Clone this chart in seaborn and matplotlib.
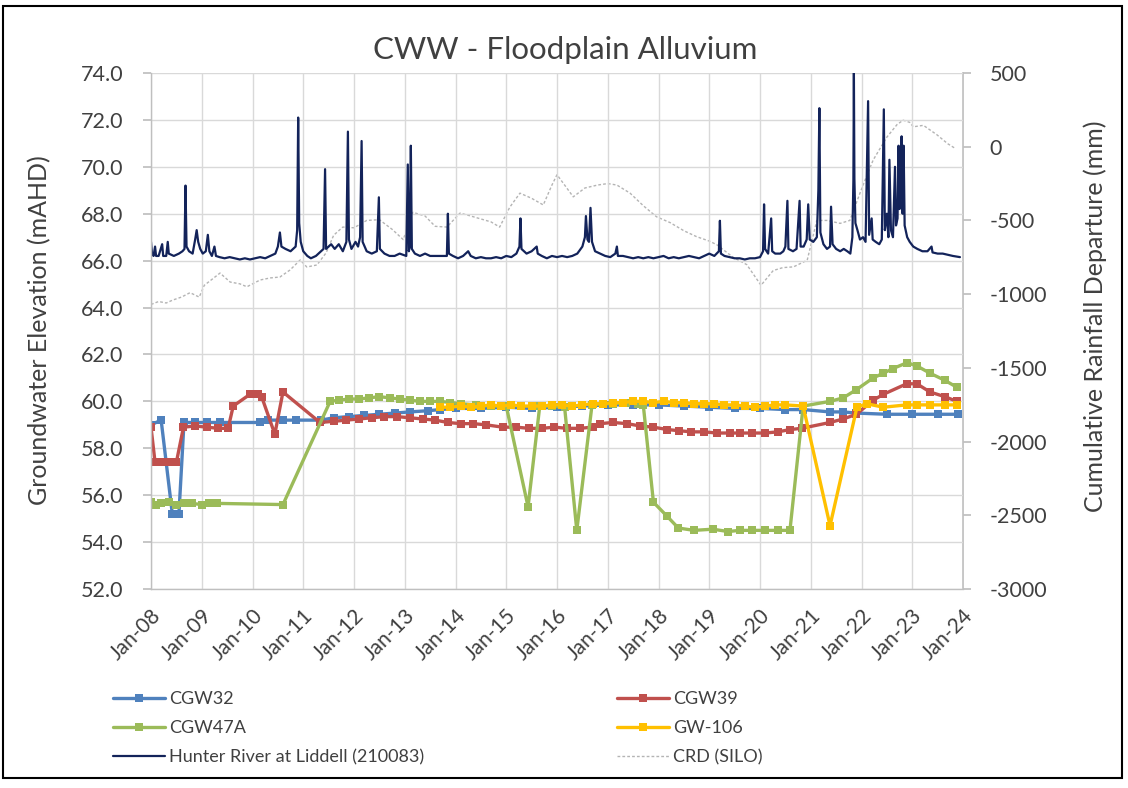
import matplotlib
matplotlib.use("Agg")
import matplotlib.pyplot as plt
import seaborn as sns
import pandas as pd
from matplotlib.patches import Rectangle

# ---------------- data ----------------
cgw32_t = [2008.0, 2008.2, 2008.42, 2008.55, 2008.65, 2008.87, 2009.1, 2009.35, 2010.15, 2010.3, 2010.6,
           2010.85, 2011.35, 2011.6, 2011.9, 2012.2, 2012.5, 2012.8, 2013.1, 2013.45, 2013.7, 2014.0,
           2014.5, 2015.0, 2015.5, 2016.0, 2016.5, 2017.0, 2017.5, 2018.0, 2018.5, 2019.0, 2019.5,
           2020.0, 2020.5, 2020.85, 2021.38, 2021.64, 2021.9, 2022.5, 2023.0, 2023.5, 2023.9]
cgw32_v = [59.0, 59.2, 55.2, 55.2, 59.1, 59.1, 59.1, 59.1, 59.1, 59.2, 59.2,
           59.2, 59.2, 59.3, 59.35, 59.4, 59.45, 59.5, 59.55, 59.6, 59.65, 59.7,
           59.7, 59.75, 59.7, 59.75, 59.8, 59.85, 59.85, 59.85, 59.8, 59.75, 59.7,
           59.7, 59.65, 59.65, 59.55, 59.55, 59.5, 59.45, 59.45, 59.45, 59.45]

cgw39_t = [2008.0, 2008.08, 2008.2, 2008.35, 2008.5, 2008.64, 2008.87, 2009.1, 2009.33, 2009.52, 2009.62,
           2009.95, 2010.1, 2010.18, 2010.44, 2010.6, 2011.33, 2011.6, 2011.85, 2012.1, 2012.35, 2012.6,
           2012.85, 2013.1, 2013.35, 2013.6, 2013.85, 2014.1, 2014.35, 2014.6, 2014.93, 2015.2, 2015.45,
           2015.7, 2015.95, 2016.2, 2016.45, 2016.7, 2016.85, 2017.1, 2017.38, 2017.64, 2017.9, 2018.17,
           2018.4, 2018.65, 2018.9, 2019.15, 2019.4, 2019.6, 2019.85, 2020.1, 2020.35, 2020.6, 2020.82,
           2021.38, 2021.64, 2021.9, 2022.23, 2022.43, 2022.89, 2023.09, 2023.35, 2023.64, 2023.88]
cgw39_v = [58.9, 57.4, 57.4, 57.4, 57.4, 58.9, 58.95, 58.9, 58.85, 58.85, 59.8,
           60.3, 60.3, 60.2, 58.6, 60.4, 59.1, 59.15, 59.2, 59.25, 59.3, 59.35,
           59.35, 59.3, 59.25, 59.2, 59.1, 59.05, 59.05, 59.0, 58.9, 58.9, 58.85,
           58.85, 58.9, 58.85, 58.85, 58.9, 59.05, 59.1, 59.05, 58.95, 58.9, 58.8,
           58.75, 58.7, 58.7, 58.65, 58.65, 58.65, 58.65, 58.65, 58.7, 58.8, 58.85,
           59.1, 59.25, 59.45, 60.05, 60.3, 60.75, 60.75, 60.4, 60.2, 60.0]

cgw47a_t = [2008.0, 2008.1, 2008.2, 2008.35, 2008.5, 2008.65, 2008.8, 2009.0, 2009.15, 2009.3, 2010.6,
            2011.53, 2011.7, 2011.9, 2012.1, 2012.3, 2012.5, 2012.7, 2012.9, 2013.1, 2013.3, 2013.5,
            2013.7, 2013.9, 2014.1, 2014.4, 2014.7, 2015.0, 2015.43, 2015.66, 2015.9, 2016.15, 2016.39,
            2016.69, 2016.9, 2017.1, 2017.35, 2017.6, 2017.7, 2017.9, 2018.17, 2018.39, 2018.7, 2019.07,
            2019.37, 2019.6, 2019.84, 2020.1, 2020.35, 2020.59, 2020.85, 2021.38, 2021.64, 2021.9, 2022.23,
            2022.43, 2022.62, 2022.9, 2023.1, 2023.35, 2023.64, 2023.88]
cgw47a_v = [55.7, 55.6, 55.65, 55.7, 55.6, 55.65, 55.65, 55.6, 55.65, 55.65, 55.6,
            60.0, 60.05, 60.1, 60.1, 60.15, 60.2, 60.15, 60.1, 60.05, 60.0, 60.0,
            60.0, 59.95, 59.9, 59.85, 59.8, 59.8, 55.5, 59.8, 59.8, 59.75, 54.5,
            59.85, 59.9, 59.9, 59.95, 59.9, 59.85, 55.7, 55.1, 54.6, 54.5, 54.55,
            54.45, 54.5, 54.5, 54.5, 54.5, 54.5, 59.8, 60.0, 60.15, 60.5, 61.0,
            61.2, 61.4, 61.65, 61.5, 61.2, 60.9, 60.6]

gw106_t = [2013.7, 2013.9, 2014.1, 2014.3, 2014.5, 2014.7, 2014.9, 2015.1, 2015.3, 2015.5, 2015.7,
           2015.9, 2016.1, 2016.3, 2016.5, 2016.7, 2016.9, 2017.1, 2017.3, 2017.5, 2017.7, 2017.9,
           2018.1, 2018.3, 2018.5, 2018.7, 2018.9, 2019.1, 2019.3, 2019.5, 2019.7, 2019.9, 2020.1,
           2020.3, 2020.5, 2020.85, 2021.38, 2021.91, 2022.1, 2022.43, 2022.89, 2023.1, 2023.35,
           2023.64, 2023.88]
gw106_v = [59.75, 59.75, 59.8, 59.75, 59.8, 59.85, 59.8, 59.85, 59.8, 59.8, 59.8,
           59.85, 59.85, 59.8, 59.85, 59.9, 59.9, 59.95, 59.95, 60.0, 60.0, 59.95,
           60.0, 59.95, 59.95, 59.9, 59.9, 59.9, 59.85, 59.85, 59.8, 59.75, 59.8,
           59.85, 59.85, 59.8, 54.7, 59.75, 59.9, 59.75, 59.85, 59.85, 59.85,
           59.85, 59.85]

river_t = [2008.00, 2008.02, 2008.05, 2008.08, 2008.10, 2008.15, 2008.22, 2008.24, 2008.30, 2008.33,
           2008.35, 2008.45, 2008.55, 2008.62, 2008.66, 2008.68, 2008.70, 2008.75, 2008.82, 2008.87,
           2008.90, 2008.93, 2008.97, 2009.02, 2009.08, 2009.12, 2009.15, 2009.20, 2009.25, 2009.28,
           2009.35, 2009.45, 2009.55, 2009.65, 2009.75, 2009.85, 2009.95, 2010.05, 2010.15, 2010.25,
           2010.35, 2010.45, 2010.50, 2010.54, 2010.57, 2010.65, 2010.75, 2010.85, 2010.88, 2010.90,
           2010.92, 2010.95, 2011.00, 2011.08, 2011.15, 2011.25, 2011.35, 2011.40, 2011.43, 2011.45,
           2011.50, 2011.55, 2011.62, 2011.70, 2011.78, 2011.85, 2011.88, 2011.90, 2011.95, 2012.03,
           2012.08, 2012.12, 2012.15, 2012.17, 2012.25, 2012.35, 2012.45, 2012.49, 2012.51, 2012.60,
           2012.70, 2012.80, 2012.90, 2013.03, 2013.06, 2013.08, 2013.10, 2013.12, 2013.14, 2013.20,
           2013.30, 2013.40, 2013.50, 2013.60, 2013.70, 2013.83, 2013.85, 2013.87, 2013.95, 2014.05,
           2014.15, 2014.25, 2014.30, 2014.40, 2014.50, 2014.60, 2014.70, 2014.80, 2014.90, 2015.00,
           2015.10, 2015.20, 2015.26, 2015.28, 2015.30, 2015.40, 2015.50, 2015.60, 2015.62, 2015.70,
           2015.80, 2015.90, 2016.00, 2016.10, 2016.20, 2016.30, 2016.40, 2016.50, 2016.55, 2016.57,
           2016.60, 2016.63, 2016.66, 2016.69, 2016.75, 2016.85, 2016.95, 2017.05, 2017.15, 2017.18,
           2017.20, 2017.30, 2017.40, 2017.50, 2017.60, 2017.70, 2017.80, 2017.90, 2018.00, 2018.10,
           2018.20, 2018.30, 2018.40, 2018.50, 2018.60, 2018.70, 2018.80, 2018.90, 2019.00, 2019.10,
           2019.19, 2019.21, 2019.23, 2019.30, 2019.40, 2019.50, 2019.60, 2019.70, 2019.80, 2019.90,
           2020.00, 2020.06, 2020.08, 2020.10, 2020.16, 2020.22, 2020.24, 2020.30, 2020.40, 2020.46,
           2020.50, 2020.54, 2020.56, 2020.65, 2020.72, 2020.78, 2020.80, 2020.86, 2020.92, 2020.95,
           2020.98, 2021.05, 2021.12, 2021.15, 2021.17, 2021.19, 2021.25, 2021.32, 2021.38, 2021.40,
           2021.43, 2021.50, 2021.58, 2021.65, 2021.72, 2021.78, 2021.82, 2021.84, 2021.85, 2021.86,
           2021.88, 2021.92, 2021.97, 2022.03, 2022.08, 2022.13, 2022.15, 2022.20, 2022.22, 2022.28,
           2022.35, 2022.40, 2022.44, 2022.46, 2022.50, 2022.53, 2022.55, 2022.58, 2022.62, 2022.66,
           2022.68, 2022.71, 2022.73, 2022.75, 2022.77, 2022.79, 2022.81, 2022.83, 2022.85, 2022.90,
           2022.95, 2023.02, 2023.10, 2023.20, 2023.30, 2023.38, 2023.40, 2023.50, 2023.60, 2023.70,
           2023.80, 2023.94]
river_v = [66.8, 66.3, 66.2, 66.6, 66.2, 66.2, 66.7, 66.2, 66.2, 66.8,
           66.3, 66.2, 66.3, 66.4, 66.5, 69.2, 66.6, 66.4, 66.3, 66.9,
           67.3, 66.8, 66.5, 66.3, 66.4, 67.1, 66.4, 66.2, 66.6, 66.2,
           66.15, 66.1, 66.15, 66.1, 66.05, 66.1, 66.05, 66.1, 66.15, 66.1,
           66.2, 66.3, 66.6, 67.2, 66.6, 66.5, 66.4, 66.6, 67.3, 72.1,
           67.6, 66.8, 66.4, 66.2, 66.1, 66.2, 66.4, 66.5, 69.9, 66.5,
           66.6, 66.7, 66.5, 66.7, 66.4, 66.8, 71.5, 66.9, 66.5, 66.8,
           66.6, 67.0, 71.1, 66.8, 66.4, 66.3, 66.4, 68.7, 66.5, 66.3,
           66.2, 66.2, 66.3, 66.2, 70.1, 66.4, 66.6, 70.9, 66.5, 66.3,
           66.2, 66.3, 66.2, 66.2, 66.2, 66.2, 68.0, 66.3, 66.2, 66.1,
           66.2, 66.4, 66.2, 66.1, 66.15, 66.1, 66.1, 66.15, 66.1, 66.2,
           66.15, 66.3, 66.6, 67.8, 66.5, 66.3, 66.4, 66.6, 66.3, 66.2,
           66.1, 66.2, 66.15, 66.2, 66.15, 66.2, 66.3, 66.6, 67.0, 67.9,
           66.9, 66.8, 68.25, 66.8, 66.4, 66.3, 66.2, 66.15, 66.3, 66.6,
           66.2, 66.2, 66.15, 66.1, 66.15, 66.1, 66.15, 66.1, 66.15, 66.2,
           66.1, 66.15, 66.1, 66.15, 66.2, 66.15, 66.1, 66.2, 66.3, 66.2,
           66.4, 67.7, 66.3, 66.2, 66.15, 66.1, 66.1, 66.05, 66.1, 66.1,
           66.15, 66.4, 68.4, 66.5, 66.3, 67.8, 66.4, 66.3, 66.3, 66.4,
           66.6, 68.55, 66.5, 66.4, 66.5, 68.55, 66.6, 66.6, 66.9, 68.4,
           66.9, 66.8, 67.0, 69.0, 72.5, 67.2, 66.7, 66.5, 66.6, 68.3,
           66.7, 66.5, 66.4, 66.5, 66.4, 66.3, 67.0, 69.4, 74.0, 69.5,
           67.6, 67.3, 66.9, 67.0, 66.8, 72.8, 67.1, 67.8, 66.9, 66.8,
           66.7, 66.9, 72.45, 67.3, 68.0, 67.0, 70.3, 67.3, 67.0, 70.0,
           67.5, 67.8, 70.9, 68.2, 69.5, 71.3, 68.0, 70.9, 67.5, 67.0,
           66.8, 66.6, 66.5, 66.4, 66.4, 66.6, 66.35, 66.3, 66.3, 66.25,
           66.2, 66.15]

crd_t = [2008.0, 2008.15, 2008.3, 2008.43, 2008.6, 2008.77, 2008.95, 2009.05, 2009.2, 2009.36, 2009.56,
         2009.75, 2009.89, 2010.15, 2010.35, 2010.54, 2010.74, 2010.94, 2011.07, 2011.27, 2011.45, 2011.6,
         2011.78, 2012.0, 2012.25, 2012.5, 2012.75, 2012.97, 2013.16, 2013.4, 2013.6, 2013.83, 2014.09,
         2014.3, 2014.5, 2014.7, 2014.87, 2015.07, 2015.27, 2015.5, 2015.73, 2015.9, 2016.0, 2016.15,
         2016.32, 2016.55, 2016.8, 2017.0, 2017.18, 2017.44, 2017.7, 2017.96, 2018.23, 2018.5, 2018.75,
         2019.0, 2019.15, 2019.47, 2019.74, 2019.9, 2020.02, 2020.26, 2020.45, 2020.66, 2020.93, 2021.12,
         2021.32, 2021.58, 2021.77, 2021.97, 2022.1, 2022.23, 2022.5, 2022.7, 2022.82, 2022.95, 2023.02,
         2023.22, 2023.49, 2023.7, 2023.84]
crd_v = [-1070, -1050, -1060, -1040, -1020, -990, -1020, -940, -900, -857, -918,
         -930, -950, -904, -890, -884, -836, -768, -816, -802, -720, -600,
         -545, -550, -500, -495, -560, -630, -445, -470, -540, -545, -450,
         -470, -490, -510, -545, -410, -315, -350, -395, -260, -190, -260,
         -340, -280, -260, -250, -260, -315, -400, -475, -515, -570, -610,
         -640, -665, -750, -800, -880, -940, -840, -820, -815, -770, -500,
         -500, -520, -500, -315, -200, -90, 65, 150, 180, 165, 135,
         145, 80, 20, -10]

years = list(range(2008, 2025))
x_labels = [f"Jan-{y % 100:02d}" for y in years]
left_ticks = [52, 54, 56, 58, 60, 62, 64, 66, 68, 70, 72, 74]
right_ticks = [-3000, -2500, -2000, -1500, -1000, -500, 0, 500]

# ---------------- style ----------------
sns.set_theme(style="white")
plt.rcParams["font.family"] = ["Lato", "DejaVu Sans"]
TXT = "#404040"
GRID = "#D9D9D9"
AXC = "#BFBFBF"

W, H = 1128, 788
fig = plt.figure(figsize=(W / 100, H / 100), dpi=100)
fig.patch.set_facecolor("white")
ax = fig.add_axes([151 / W, 1 - 589 / H, (963 - 151) / W, (589 - 73) / H])
ax2 = ax.twinx()
ax.set_zorder(ax2.get_zorder() + 1)
ax.patch.set_visible(False)

# CRD on the right axis (drawn behind)
sns.lineplot(x=crd_t, y=crd_v, ax=ax2, color="#B4B4B4", linewidth=1.0,
             linestyle=(0, (2.0, 1.5)), estimator=None, sort=False, legend=False)
h_crd = ax2.lines[-1]

# river
sns.lineplot(x=river_t, y=river_v, ax=ax, color="#13235A", linewidth=1.6,
             estimator=None, sort=False, legend=False)
h_riv = ax.lines[-1]

series = [
    (cgw32_t, cgw32_v, "#4F81BD"),
    (cgw39_t, cgw39_v, "#C0504D"),
    (cgw47a_t, cgw47a_v, "#9BBB59"),
    (gw106_t, gw106_v, "#FFC000"),
]
handles = []
for t, v, c in series:
    sns.lineplot(x=t, y=v, ax=ax, color=c, linewidth=2.4, marker="s", markersize=5.5,
                 markeredgewidth=0, estimator=None, sort=False, legend=False)
    handles.append(ax.lines[-1])
h32, h39, h47, h106 = handles

# axes
ax.set_xlim(2008, 2024)
ax.set_ylim(52, 74)
ax2.set_ylim(-3000, 500)
ax.set_xticks(years)
ax.set_xticklabels(x_labels, rotation=45, ha="right", va="top", rotation_mode="anchor",
                   fontsize=15, color=TXT)
ax.set_yticks(left_ticks)
ax.set_yticklabels([f"{v:.1f}" for v in left_ticks], fontsize=15.5, color=TXT)
ax2.set_yticks(right_ticks)
ax2.set_yticklabels([str(v) for v in right_ticks], fontsize=15.5, color=TXT)
ax.grid(True, color=GRID, linewidth=1.0)
ax2.grid(False)
ax.tick_params(axis="x", length=6, color=AXC, pad=6)
ax.tick_params(axis="y", length=6, color=AXC, pad=14)
ax2.tick_params(axis="y", length=6, color=AXC, pad=13)
for a in (ax, ax2):
    for s in a.spines.values():
        s.set_visible(False)
for s in ("left", "bottom"):
    ax.spines[s].set_visible(True)
    ax.spines[s].set_color(AXC)
    ax.spines[s].set_linewidth(1.0)
ax2.spines["right"].set_visible(True)
ax2.spines["right"].set_color(AXC)
ax.set_xlabel("")
ax.set_ylabel("")
ax2.set_ylabel("")

# titles / labels
fig.text(565 / W, 1 - 50 / H, "CWW - Floodplain Alluvium", ha="center", va="center",
         fontsize=22.5, color=TXT)
fig.text(40 / W, 1 - 330 / H, "Groundwater Elevation (mAHD)", rotation=90,
         ha="center", va="center", fontsize=18, color=TXT)
fig.text(1095 / W, 1 - 316 / H, "Cumulative Rainfall Departure (mm)", rotation=90,
         ha="center", va="center", fontsize=18, color=TXT)

# legends (two columns)
leg_kw = dict(loc="upper left", frameon=False, fontsize=13, handlelength=2.9,
              handletextpad=0.2, labelspacing=0.72, borderpad=0, borderaxespad=0)
leg1 = fig.legend([h32, h47, h_riv], ["CGW32", "CGW47A", "Hunter River at Liddell (210083)"],
                  bbox_to_anchor=(113 / W, 1 - 691 / H), **leg_kw)
leg2 = fig.legend([h39, h106, h_crd], ["CGW39", "GW-106", "CRD (SILO)"],
                  bbox_to_anchor=(617 / W, 1 - 691 / H), **leg_kw)
for lg in (leg1, leg2):
    for t in lg.get_texts():
        t.set_color(TXT)

# outer chart border
fig.patches.append(Rectangle((3 / W, 1 - 778 / H), (1122 - 3) / W, (778 - 6) / H,
                             transform=fig.transFigure, fill=False, edgecolor="black",
                             linewidth=1.5))

fig.savefig("out.png", dpi=100)
